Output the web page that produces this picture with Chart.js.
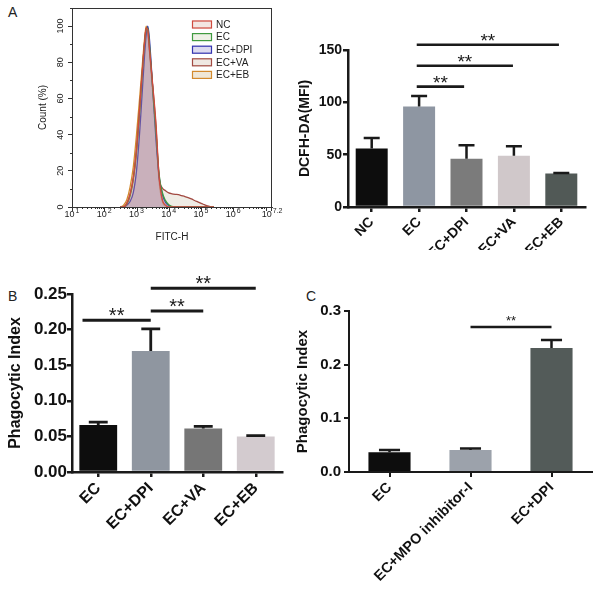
<!DOCTYPE html>
<html>
<head>
<meta charset="utf-8">
<script src="https://cdn.jsdelivr.net/npm/chart.js@4.4.1/dist/chart.umd.min.js"></script>
<style>
  body { margin: 0; background: #fff; }
  #fig { position: relative; width: 600px; height: 595px; font-family: 'Liberation Sans', Arial, sans-serif; }
  #fig canvas { position: absolute; }
  .tag { position: absolute; font-size: 14px; color: #222; line-height: 16px; }
</style>
</head>
<body>
<div id="fig">
  <div class="tag" style="left:8px;top:4px">A</div>
  <div class="tag" style="left:8px;top:288px">B</div>
  <div class="tag" style="left:306px;top:288px">C</div>
  <canvas id="hist" width="300" height="245" style="left:0;top:0"></canvas>
  <canvas id="mfi" width="310" height="250" style="left:290px;top:0"></canvas>
  <canvas id="phagoB" width="300" height="327" style="left:0;top:268px"></canvas>
  <canvas id="phagoC" width="306" height="327" style="left:294px;top:268px"></canvas>
</div>
<script>
// --- A (left): flow histogram, FITC-H channel vs count (%) ---
const histFitc = [316, 398, 501, 631, 794, 1000, 1259, 1413, 1585, 1778, 1995, 2239, 2512, 3162, 3981, 5012, 6310, 7943,
  10000, 12589, 15849, 19953, 25119, 31623, 39811, 50119, 63096, 79433, 100000, 125893, 158489, 199526, 251189];
const histNC  = [0, 0, 2, 7, 16, 32, 55, 68, 80, 91, 99, 98, 88, 68, 47, 17, 4, 1, 0, 0, 0, 0, 0, 0, 0, 0, 0, 0, 0, 0, 0, 0, 0];
const histEC  = [0, 0, 1.5, 6, 15, 30, 53, 66, 79, 90, 98, 99, 90, 66, 42, 18, 8, 3.5, 1.2, 0.3, 0, 0, 0, 0, 0, 0, 0, 0, 0, 0, 0, 0, 0];
const histDPI = [0, 0, 1, 3, 8, 20, 42, 56, 70, 84, 95, 100, 93, 66, 38, 17, 7, 2.5, 0.8, 0, 0, 0, 0, 0, 0, 0, 0, 0, 0, 0, 0, 0, 0];
const histVA  = [0, 0, 2, 7, 16, 32, 55, 68, 80, 91, 99, 97, 87, 67, 45, 16, 10.5, 9, 7.8, 7.3, 7, 6.8, 6.3, 5.8, 5.2, 4.5, 3.6, 2.8, 2, 1.3, 0.6, 0.1, 0];
const histEB  = [0, 1, 4, 11, 22, 40, 61, 72, 83, 93, 100, 96, 86, 64, 42, 14, 3, 0.5, 0, 0, 0, 0, 0, 0, 0, 0, 0, 0, 0, 0, 0, 0, 0];
const histNames = ['NC', 'EC', 'EC+DPI', 'EC+VA', 'EC+EB'];
const histYTicks = [0, 20, 40, 60, 80, 100];
const histXExp = ['1', '2', '3', '4', '5', '6', '7.2'];

// --- A (right): DCFH-DA MFI ---
const mfiGroups = ['NC', 'EC', 'EC+DPI', 'EC+VA', 'EC+EB'];
const mfiMean = [56, 96, 46, 49, 32];
const mfiErr = [10, 10, 13, 9, 0.6];
const mfiTicks = [0, 50, 100, 150];
const mfiSigFrom = [0.95, 0.95, 0.95];
const mfiSigTo = [1.95, 2.98, 3.95];
const mfiSigAt = [115, 135, 155];

// --- B: phagocytic index ---
const bGroups = ['EC', 'EC+DPI', 'EC+VA', 'EC+EB'];
const bMean = [0.066, 0.170, 0.061, 0.050];
const bErr = [0.004, 0.031, 0.003, 0.001];
const bTicks = [0, 0.05, 0.10, 0.15, 0.20, 0.25];
const bSigFrom = [-0.3, 1, 1];
const bSigTo = [1, 2, 3];
const bSigAt = [0.213, 0.226, 0.258];

// --- C: phagocytic index with MPO inhibitor ---
const cGroups = ['EC', 'EC+MPO inhibitor-I', 'EC+DPI'];
const cMean = [0.037, 0.041, 0.231];
const cErr = [0.004, 0.003, 0.015];
const cTicks = [0, 0.1, 0.2, 0.3];
const cSigFrom = [1];
const cSigTo = [2];
const cSigAt = [0.27];

const FONT = "'Liberation Sans', Arial, sans-serif";
Chart.defaults.font.family = FONT;
Chart.defaults.color = '#111';

const INK = '#1a1a1a';

// error bars: stem from bar top, cap = half the bar width
function errorBars(means, errs, width) {
  return {
    id: 'errorBars',
    afterDatasetsDraw(chart) {
      const { ctx, scales: { y } } = chart;
      const meta = chart.getDatasetMeta(0);
      ctx.save();
      ctx.strokeStyle = INK;
      ctx.lineWidth = width;
      meta.data.forEach((bar, i) => {
        const top = y.getPixelForValue(means[i] + errs[i]);
        const half = bar.width / 4;
        ctx.beginPath();
        ctx.moveTo(bar.x, bar.y);
        ctx.lineTo(bar.x, top);
        ctx.moveTo(bar.x - half, top);
        ctx.lineTo(bar.x + half, top);
        ctx.stroke();
      });
      ctx.restore();
    }
  };
}

// significance brackets (plain lines with ** above)
function sigBars(s) {
  return {
    id: 'sigBars',
    afterDraw(chart) {
      const { ctx, scales: { x, y } } = chart;
      ctx.save();
      ctx.strokeStyle = INK;
      ctx.fillStyle = INK;
      ctx.lineWidth = s.lineWidth;
      ctx.font = s.font;
      ctx.textAlign = 'center';
      ctx.textBaseline = 'alphabetic';
      s.from.forEach((f, i) => {
        const x1 = x.getPixelForValue(f);
        const x2 = x.getPixelForValue(s.to[i]);
        const py = y.getPixelForValue(s.at[i]);
        ctx.beginPath();
        ctx.moveTo(x1, py);
        ctx.lineTo(x2, py);
        ctx.stroke();
        ctx.fillText('**', (x1 + x2) / 2, py + s.dy);
      });
      ctx.restore();
    }
  };
}

function barChart(id, c) {
  return new Chart(document.getElementById(id), {
    type: 'bar',
    data: {
      labels: c.groups,
      datasets: [{ data: c.mean, backgroundColor: c.colors, barPercentage: c.barPct, categoryPercentage: 1 }]
    },
    options: {
      responsive: false,
      animation: false,
      layout: { padding: c.pad },
      plugins: { legend: { display: false }, tooltip: { enabled: false } },
      scales: {
        x: {
          grid: { offset: false, drawOnChartArea: false, tickLength: 5, lineWidth: c.axisW, color: INK },
          border: { color: INK, width: c.axisW },
          ticks: { autoSkip: false, minRotation: 45, maxRotation: 45, padding: c.xPad, font: c.xFont, color: '#111' },
          afterFit: s => { s.height = c.xH; }
        },
        y: {
          min: c.ticks[0],
          max: c.ticks[c.ticks.length - 1],
          afterBuildTicks: s => { s.ticks = c.ticks.map(v => ({ value: v })); },
          grid: { drawOnChartArea: false, tickLength: 5, lineWidth: c.axisW, color: INK },
          border: { color: INK, width: c.axisW },
          ticks: { padding: c.yPad, font: c.yFont, color: '#111', callback: v => v.toFixed(c.dec) },
          title: { display: true, text: c.title, font: c.titleFont, color: '#111', padding: { top: c.titlePad, bottom: 0 } },
          afterFit: s => { s.width = c.yW; }
        }
      }
    },
    plugins: [errorBars(c.mean, c.err, c.errW), sigBars(c.sig)]
  });
}

// ---------- histogram ----------
const histSeries = [histNC, histEC, histDPI, histVA, histEB];
const histLine = ['#cf4a3e', '#3f9a3f', '#3434b0', '#a24a42', '#d38a2e'];
const histFill = ['rgba(200,110,130,0.25)', 'rgba(170,200,160,0.15)', 'rgba(120,100,190,0.25)', 'rgba(220,212,198,0.45)', 'rgba(215,185,165,0.15)'];
const histBox = ['#f3e6e2', '#eef0e6', '#dcdaf0', '#efe8e2', '#efe7d7'];

const histFrame = {
  id: 'histFrame',
  afterDraw(chart) {
    const { ctx, chartArea: a, scales: { x, y } } = chart;
    ctx.save();
    ctx.strokeStyle = '#333';
    ctx.lineWidth = 1;
    ctx.strokeRect(a.left + 0.5, a.top + 0.5, a.right - a.left - 1, a.bottom - a.top);
    // x ticks (log decades with minor ticks)
    ctx.beginPath();
    for (let d = 1; d <= 7; d++) {
      for (let m = 1; m < 10; m++) {
        const v = m * Math.pow(10, d);
        if (v > x.max) break;
        const px = Math.round(x.getPixelForValue(v)) + 0.5;
        ctx.moveTo(px, a.bottom);
        ctx.lineTo(px, a.bottom + (m === 1 ? 4 : 2));
      }
    }
    const pxMax = Math.round(x.getPixelForValue(x.max)) - 0.5;
    ctx.moveTo(pxMax, a.bottom);
    ctx.lineTo(pxMax, a.bottom + 4);
    // y minor ticks
    for (let v = 10; v <= 110; v += 20) {
      const py = Math.round(y.getPixelForValue(v)) + 0.5;
      ctx.moveTo(a.left, py);
      ctx.lineTo(a.left - 2, py);
    }
    ctx.stroke();
    // x labels 10^n
    ctx.fillStyle = '#222';
    ctx.textBaseline = 'middle';
    histXExp.forEach(e => {
      const px = x.getPixelForValue(Math.pow(10, parseFloat(e)));
      ctx.font = '9px ' + FONT;
      const wb = ctx.measureText('10').width;
      ctx.font = '7px ' + FONT;
      const we = ctx.measureText(e).width;
      const x0 = px - (wb + 1 + we) / 2;
      ctx.textAlign = 'left';
      ctx.font = '9px ' + FONT;
      ctx.fillText('10', x0, a.bottom + 8);
      ctx.font = '7px ' + FONT;
      ctx.fillText(e, x0 + wb + 1, a.bottom + 4);
    });
    // legend
    ctx.font = '10px ' + FONT;
    ctx.textAlign = 'left';
    chart.data.datasets.forEach((ds, i) => {
      const cy = 24.5 + i * 12.6;
      ctx.fillStyle = histBox[i];
      ctx.fillRect(192, cy - 4, 20, 8);
      ctx.strokeStyle = ds.borderColor;
      ctx.lineWidth = 1.2;
      ctx.strokeRect(192.5, cy - 3.5, 19, 7);
      ctx.fillStyle = '#222';
      ctx.fillText(ds.label, 216, cy + 0.5);
    });
    ctx.restore();
  }
};

new Chart(document.getElementById('hist'), {
  type: 'line',
  data: {
    datasets: histSeries.map((s, i) => ({
      label: histNames[i],
      data: histFitc.map((f, j) => ({ x: f, y: s[j] })),
      borderColor: histLine[i],
      backgroundColor: histFill[i],
      fill: 'origin'
    }))
  },
  options: {
    responsive: false,
    animation: false,
    layout: { padding: { top: 8, right: 28, left: 0, bottom: 0 } },
    plugins: { legend: { display: false }, tooltip: { enabled: false } },
    elements: { point: { radius: 0 }, line: { borderWidth: 1.3, cubicInterpolationMode: 'monotone' } },
    scales: {
      x: {
        type: 'logarithmic',
        min: 10,
        max: Math.pow(10, 7.2),
        grid: { display: false },
        border: { color: '#333', width: 1 },
        ticks: { display: false },
        title: { display: true, text: 'FITC-H', font: { size: 10 }, color: '#222', padding: { top: 0, bottom: 2 } },
        afterFit: s => { s.height = 38; }
      },
      y: {
        min: 0,
        max: 110,
        afterBuildTicks: s => { s.ticks = histYTicks.map(v => ({ value: v })); },
        grid: { drawOnChartArea: false, tickLength: 4, color: '#333' },
        border: { color: '#333', width: 1 },
        ticks: { minRotation: 90, maxRotation: 90, crossAlign: 'center', padding: 0, font: { size: 9 }, color: '#222' },
        title: { display: true, text: 'Count (%)', font: { size: 10 }, color: '#222', padding: { top: 37, bottom: 0 } },
        afterFit: s => { s.width = 72; }
      }
    }
  },
  plugins: [histFrame]
});

// ---------- A right ----------
barChart('mfi', {
  groups: mfiGroups, mean: mfiMean, err: mfiErr, ticks: mfiTicks, dec: 0,
  colors: ['#0d0d0d', '#8e96a2', '#7b7b7b', '#d0c8ca', '#515956'],
  barPct: 0.675, pad: { top: 50, right: 15, left: 0, bottom: 0 },
  xH: 43, yW: 58, axisW: 2.5, errW: 2.5, xPad: 2, yPad: 1,
  xFont: { size: 14, weight: 'bold' }, yFont: { size: 14, weight: 'bold' },
  title: 'DCFH-DA(MFI)', titleFont: { size: 14, weight: 'bold' }, titlePad: 7,
  sig: { from: mfiSigFrom, to: mfiSigTo, at: mfiSigAt, lineWidth: 2.6, font: '19px ' + FONT, dy: 2 }
});

// ---------- B ----------
barChart('phagoB', {
  groups: bGroups, mean: bMean, err: bErr, ticks: bTicks, dec: 2,
  colors: ['#0d0d0d', '#8f96a0', '#767676', '#d3cbcf'],
  barPct: 0.72, pad: { top: 26, right: 18, left: 0, bottom: 0 },
  xH: 123, yW: 72, axisW: 2.5, errW: 2.8, xPad: 2, yPad: 0,
  xFont: { size: 16, weight: 'bold' }, yFont: { size: 17, weight: 'bold' },
  title: 'Phagocytic Index', titleFont: { size: 16, weight: 'bold' }, titlePad: 6,
  sig: { from: bSigFrom, to: bSigTo, at: bSigAt, lineWidth: 3, font: '20px ' + FONT, dy: 2 }
});

// ---------- C ----------
barChart('phagoC', {
  groups: cGroups, mean: cMean, err: cErr, ticks: cTicks, dec: 1,
  colors: ['#0d0d0d', '#9ca2ab', '#535b59'],
  barPct: 0.52, pad: { top: 43, right: 8, left: 0, bottom: 0 },
  xH: 123, yW: 55, axisW: 2, errW: 2.5, xPad: 2, yPad: 3,
  xFont: { size: 14.5, weight: 'bold' }, yFont: { size: 15, weight: 'bold' },
  title: 'Phagocytic Index', titleFont: { size: 15, weight: 'bold' }, titlePad: 0,
  sig: { from: cSigFrom, to: cSigTo, at: cSigAt, lineWidth: 2.5, font: '13px ' + FONT, dy: -2.5 }
});
</script>
</body>
</html>
